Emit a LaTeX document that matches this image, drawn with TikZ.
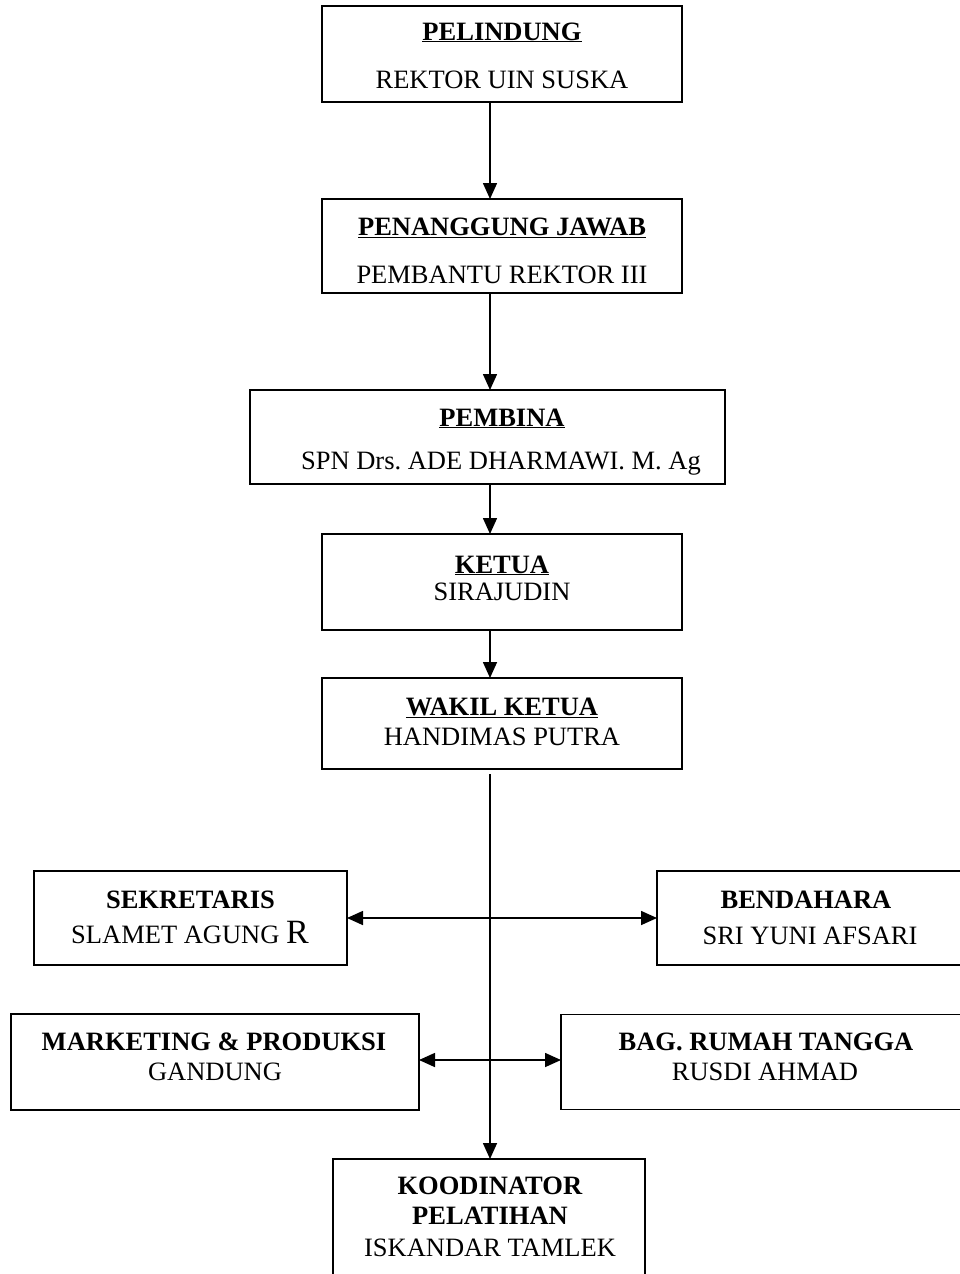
\documentclass[tikz,border=0pt]{standalone}
\usepackage{fontspec}
\setmainfont{Liberation Serif}
\usetikzlibrary{arrows.meta}
\newcommand\fsz{\fontsize{26.5}{30}\selectfont}
\newcommand\bigR{{\fontsize{34}{36}\selectfont R}}
\tikzset{
  box/.style={draw, line width=1.6pt, inner sep=0pt, outer sep=0pt},
  lbl/.style={anchor=base, inner sep=0pt, font=\fsz},
  arr/.style={line width=1.6pt, -{Triangle[length=16pt,width=14pt]}},
  arrtwo/.style={line width=1.6pt, {Triangle[length=16pt,width=14pt]}-{Triangle[length=16pt,width=14pt]}}
}
\frenchspacing
\begin{document}
\begin{tikzpicture}[x=1pt,y=-1pt]
\useasboundingbox (0,0) rectangle (959,1274);
% boxes
\node[box, minimum width=360pt, minimum height=96pt] (pel) at (502,54) {};
\node[box, minimum width=360pt, minimum height=94pt] (pen) at (502,246) {};
\node[box, minimum width=475pt, minimum height=94pt] (pem) at (487.5,437) {};
\node[box, minimum width=360pt, minimum height=96pt] (ket) at (502,582) {};
\node[box, minimum width=360pt, minimum height=91pt] (wak) at (502,723.5) {};
\node[box, minimum width=313pt, minimum height=94pt] (sek) at (190.5,918) {};
\node[box, minimum width=308pt, minimum height=94pt] (ben) at (811,918) {};
\node[box, minimum width=408pt, minimum height=96pt] (mar) at (215,1062) {};
\node[box, minimum width=407pt, minimum height=95pt] (bag) at (764.5,1062) {};
\node[box, minimum width=312pt, minimum height=131pt] (koo) at (489,1224.5) {};
% texts
\node[lbl] (t1a) at (502,40) {\textbf{\underline{PELINDUNG}}};
\node[lbl] (t1b) at (502,88) {REKTOR UIN SUSKA};
\node[lbl] (t2a) at (502,235) {\textbf{\underline{PENANGGUNG JAWAB}}};
\node[lbl] (t2b) at (502,283) {PEMBANTU REKTOR III};
\node[lbl] (t3a) at (502,426) {\textbf{\underline{PEMBINA}}};
\node[lbl] (t3b) at (501,469) {SPN Drs. ADE DHARMAWI. M. Ag};
\node[lbl] (t4a) at (502,573) {\textbf{\underline{KETUA}}};
\node[lbl] (t4b) at (502,600) {SIRAJUDIN};
\node[lbl] (t5a) at (502,715) {\textbf{\underline{WAKIL KETUA}}};
\node[lbl] (t5b) at (502,745) {HANDIMAS PUTRA};
\node[lbl] (t6a) at (190.5,908) {\textbf{SEKRETARIS}};
\node[lbl] (t6b) at (190,943) {SLAMET AGUNG \bigR};
\node[lbl] (t7a) at (806,908) {\textbf{BENDAHARA}};
\node[lbl] (t7b) at (810,944) {SRI YUNI AFSARI};
\node[lbl] (t8a) at (214,1050) {\textbf{MARKETING \& PRODUKSI}};
\node[lbl] (t8b) at (215,1080) {GANDUNG};
\node[lbl] (t9a) at (766,1050) {\textbf{BAG. RUMAH TANGGA}};
\node[lbl] (t9b) at (765,1080) {RUSDI AHMAD};
\node[lbl] (t10a) at (490,1194) {\textbf{KOODINATOR}};
\node[lbl] (t10b) at (490,1224) {\textbf{PELATIHAN}};
\node[lbl] (t10c) at (490,1256) {ISKANDAR TAMLEK};
% connectors
\coordinate (spine) at (490,0);
\coordinate (wstart) at (490,774);
\draw[arr] (pel.south -| spine) -- (pen.north -| spine);
\draw[arr] (pen.south -| spine) -- (pem.north -| spine);
\draw[arr] (pem.south -| spine) -- (ket.north -| spine);
\draw[arr] (ket.south -| spine) -- (wak.north -| spine);
\draw[arr] (wstart) -- (koo.north -| spine);
\draw[arrtwo] (sek.east) -- (ben.west);
\draw[arrtwo] ([yshift=2pt]mar.east) -- ([yshift=2pt]bag.west);
\end{tikzpicture}
\end{document}
